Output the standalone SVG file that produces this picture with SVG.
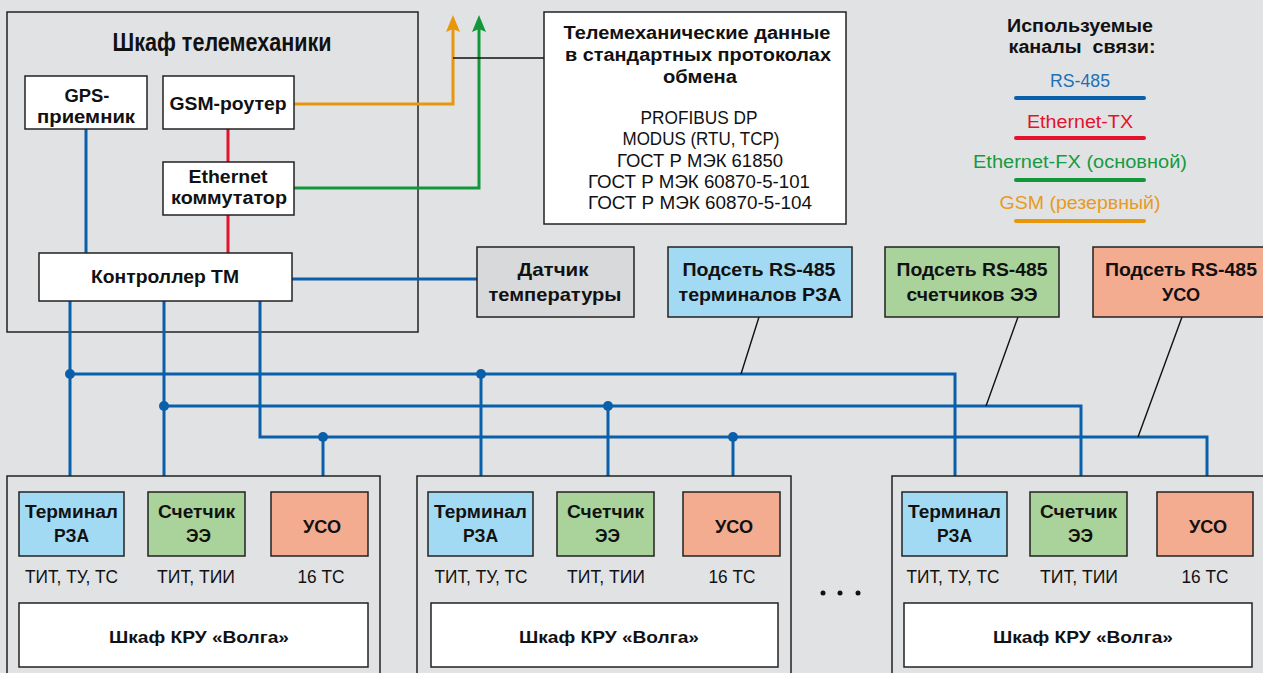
<svg xmlns="http://www.w3.org/2000/svg" width="1263" height="673" viewBox="0 0 1263 673">
<defs>
<style>
.t{font-family:"Liberation Sans","Noto Sans",Arial,sans-serif;fill:#111}
.b{font-weight:700}
.sb{font-weight:700}
.r{font-weight:400}
.box{stroke:#222;stroke-width:1.5}
.cab{fill:#e1e2e4;stroke:#222;stroke-width:1.5}
.w{fill:#fff}
.blue{fill:none;stroke:#0a5fab;stroke-width:3}
.red{fill:none;stroke:#e3132d;stroke-width:3}
.grn{fill:none;stroke:#13973b;stroke-width:3}
.org{fill:none;stroke:#e8960c;stroke-width:3}
.lead{fill:none;stroke:#111;stroke-width:1.4}
.dot{fill:#0a5fab}
.leg{fill:none;stroke-width:4;stroke-linecap:round}
</style>
<marker id="ao" viewBox="0 -7 17 14" refX="7" refY="0" markerWidth="17" markerHeight="14" markerUnits="userSpaceOnUse" orient="auto"><path d="M17,0 L0,-7 L3,0 L0,7 Z" fill="#e8960c"/></marker>
<marker id="ag" viewBox="0 -7 17 14" refX="7" refY="0" markerWidth="17" markerHeight="14" markerUnits="userSpaceOnUse" orient="auto"><path d="M17,0 L0,-7 L3,0 L0,7 Z" fill="#13973b"/></marker>
</defs>
<rect x="0" y="0" width="1263" height="673" fill="#e1e2e4"/>

<g id="telemechanics-cabinet">
<rect class="cab" x="7" y="12" width="411" height="320"/>
<text class="t b" x="222" y="51" font-size="25" text-anchor="middle" textLength="219" lengthAdjust="spacingAndGlyphs">Шкаф телемеханики</text>
</g>

<g id="connectors">
<path class="blue" d="M86,129 V253"/>
<path class="red" d="M228,129 V162 M228,215 V253"/>
<path class="org" d="M294,104 H453 V25" marker-end="url(#ao)"/>
<path class="grn" d="M294,188 H479 V25" marker-end="url(#ag)"/>
<path class="lead" d="M453,58 H544"/>
<path class="blue" d="M292,279 H477"/>
<path class="blue" d="M70,301 V492 M164,301 V492 M260,301 V437 H1207 V492"/>
<path class="blue" d="M70,374 H955 V492 M164,406 H1081 V492"/>
<path class="blue" d="M481,374 V492 M608,406 V492 M323,437 V492 M733,437 V492"/>
<circle class="dot" cx="70" cy="374" r="5"/>
<circle class="dot" cx="481" cy="374" r="5"/>
<circle class="dot" cx="164" cy="406" r="5"/>
<circle class="dot" cx="608" cy="406" r="5"/>
<circle class="dot" cx="323" cy="437" r="5"/>
<circle class="dot" cx="733" cy="437" r="5"/>
<path class="lead" d="M759,317 L741,374 M1018,317 L986,406 M1182,317 L1138,437"/>
</g>

<g id="gps">
<rect class="box w" x="25" y="76" width="122" height="53"/>
<text class="t sb" x="87" y="102" font-size="18" text-anchor="middle" textLength="45" lengthAdjust="spacingAndGlyphs">GPS-</text>
<text class="t sb" x="86" y="123" font-size="18" text-anchor="middle" textLength="98" lengthAdjust="spacingAndGlyphs">приемник</text>
</g>
<g id="gsm">
<rect class="box w" x="163" y="76" width="131" height="53"/>
<text class="t sb" x="228" y="110" font-size="18" text-anchor="middle" textLength="117" lengthAdjust="spacingAndGlyphs">GSM-роутер</text>
</g>
<g id="ethernet-switch">
<rect class="box w" x="163" y="162" width="131" height="53"/>
<text class="t sb" x="228" y="183" font-size="18" text-anchor="middle" textLength="79" lengthAdjust="spacingAndGlyphs">Ethernet</text>
<text class="t sb" x="229" y="204" font-size="18" text-anchor="middle" textLength="116" lengthAdjust="spacingAndGlyphs">коммутатор</text>
</g>
<g id="controller">
<rect class="box w" x="39" y="253" width="253" height="48"/>
<text class="t sb" x="165" y="283" font-size="18" text-anchor="middle" textLength="148" lengthAdjust="spacingAndGlyphs">Контроллер ТМ</text>
</g>

<g id="protocols">
<rect class="box w" x="544" y="12" width="302" height="212"/>
<text class="t b" x="697" y="39" font-size="18" text-anchor="middle" textLength="267" lengthAdjust="spacingAndGlyphs">Телемеханические данные</text>
<text class="t b" x="698" y="61" font-size="18" text-anchor="middle" textLength="266" lengthAdjust="spacingAndGlyphs">в стандартных протоколах</text>
<text class="t b" x="700" y="83" font-size="18" text-anchor="middle" textLength="74" lengthAdjust="spacingAndGlyphs">обмена</text>
<text class="t r" x="699" y="124" font-size="18.5" text-anchor="middle" textLength="117" lengthAdjust="spacingAndGlyphs">PROFIBUS DP</text>
<text class="t r" x="701" y="145" font-size="18.5" text-anchor="middle" textLength="157" lengthAdjust="spacingAndGlyphs">MODUS (RTU, TCP)</text>
<text class="t r" x="700" y="167" font-size="18.5" text-anchor="middle" textLength="166" lengthAdjust="spacingAndGlyphs">ГОСТ Р МЭК 61850</text>
<text class="t r" x="699" y="188" font-size="18.5" text-anchor="middle" textLength="222" lengthAdjust="spacingAndGlyphs">ГОСТ Р МЭК 60870-5-101</text>
<text class="t r" x="700" y="209" font-size="18.5" text-anchor="middle" textLength="224" lengthAdjust="spacingAndGlyphs">ГОСТ Р МЭК 60870-5-104</text>
</g>

<g id="legend">
<text class="t b" x="1080" y="32" font-size="18" text-anchor="middle" textLength="146" lengthAdjust="spacingAndGlyphs">Используемые</text>
<text class="t b" x="1082" y="53" font-size="18" text-anchor="middle" textLength="147" lengthAdjust="spacingAndGlyphs" xml:space="preserve">каналы  связи:</text>
<text class="t r" x="1080" y="87" font-size="18" text-anchor="middle" textLength="60" lengthAdjust="spacingAndGlyphs" style="fill:#1f6fb5">RS-485</text>
<path class="leg" d="M1016,98 H1144" stroke="#0a5fab"/>
<text class="t r" x="1080" y="128" font-size="18" text-anchor="middle" textLength="106" lengthAdjust="spacingAndGlyphs" style="fill:#e3132d">Ethernet-TX</text>
<path class="leg" d="M1016,138 H1144" stroke="#e3132d"/>
<text class="t r" x="1080" y="168" font-size="18" text-anchor="middle" textLength="214" lengthAdjust="spacingAndGlyphs" style="fill:#179a40">Ethernet-FX (основной)</text>
<path class="leg" d="M1016,180 H1144" stroke="#13973b"/>
<text class="t r" x="1080" y="209" font-size="18" text-anchor="middle" textLength="161" lengthAdjust="spacingAndGlyphs" style="fill:#e89a1e">GSM (резервный)</text>
<path class="leg" d="M1016,221 H1144" stroke="#e8960c"/>
</g>

<g id="temp-sensor">
<rect class="box" x="477" y="247" width="157" height="70" fill="#d8d9da"/>
<text class="t b" x="553" y="276" font-size="19" text-anchor="middle" textLength="71" lengthAdjust="spacingAndGlyphs">Датчик</text>
<text class="t b" x="555" y="301" font-size="19" text-anchor="middle" textLength="133" lengthAdjust="spacingAndGlyphs">температуры</text>
</g>
<g id="subnet-rza">
<rect class="box" x="668" y="247" width="184" height="70" fill="#a2daf4"/>
<text class="t b" x="759" y="276" font-size="19" text-anchor="middle" textLength="153" lengthAdjust="spacingAndGlyphs">Подсеть RS-485</text>
<text class="t b" x="760" y="301" font-size="19" text-anchor="middle" textLength="163" lengthAdjust="spacingAndGlyphs">терминалов РЗА</text>
</g>
<g id="subnet-meters">
<rect class="box" x="885" y="247" width="174" height="70" fill="#a9d39a"/>
<text class="t b" x="972" y="276" font-size="19" text-anchor="middle" textLength="151" lengthAdjust="spacingAndGlyphs">Подсеть RS-485</text>
<text class="t b" x="972" y="301" font-size="19" text-anchor="middle" textLength="131" lengthAdjust="spacingAndGlyphs">счетчиков ЭЭ</text>
</g>
<g id="subnet-uso">
<rect class="box" x="1093" y="247" width="180" height="70" fill="#f4ac91"/>
<text class="t b" x="1181" y="276" font-size="19" text-anchor="middle" textLength="152" lengthAdjust="spacingAndGlyphs">Подсеть RS-485</text>
<text class="t b" x="1181" y="301" font-size="19" text-anchor="middle" textLength="38" lengthAdjust="spacingAndGlyphs">УСО</text>
</g>

<g id="kru-1">
<rect class="cab" x="7" y="476" width="373" height="220"/>
<rect class="box" x="19" y="492" width="105" height="64" fill="#a2daf4"/>
<text class="t b" x="71.5" y="518" font-size="18" text-anchor="middle" textLength="93" lengthAdjust="spacingAndGlyphs">Терминал</text>
<text class="t b" x="71.5" y="542" font-size="18" text-anchor="middle" textLength="35" lengthAdjust="spacingAndGlyphs">РЗА</text>
<rect class="box" x="148" y="492" width="97" height="64" fill="#a9d39a"/>
<text class="t b" x="196.5" y="518" font-size="18" text-anchor="middle" textLength="77" lengthAdjust="spacingAndGlyphs">Счетчик</text>
<text class="t b" x="198.5" y="542" font-size="18" text-anchor="middle" textLength="25" lengthAdjust="spacingAndGlyphs">ЭЭ</text>
<rect class="box" x="271" y="492" width="97" height="64" fill="#f4ac91"/>
<text class="t b" x="322" y="533" font-size="18" text-anchor="middle" textLength="38" lengthAdjust="spacingAndGlyphs">УСО</text>
<text class="t r" x="71.5" y="583" font-size="18" text-anchor="middle" textLength="93" lengthAdjust="spacingAndGlyphs">ТИТ, ТУ, ТС</text>
<text class="t r" x="196" y="583" font-size="18" text-anchor="middle" textLength="78" lengthAdjust="spacingAndGlyphs">ТИТ, ТИИ</text>
<text class="t r" x="321" y="583" font-size="18" text-anchor="middle" textLength="47" lengthAdjust="spacingAndGlyphs">16 ТС</text>
<rect class="box w" x="19" y="603" width="349" height="64"/>
<text class="t b" x="199" y="643" font-size="17" text-anchor="middle" textLength="180" lengthAdjust="spacingAndGlyphs">Шкаф КРУ «Волга»</text>
</g>

<g id="kru-2">
<rect class="cab" x="417" y="476" width="374" height="220"/>
<rect class="box" x="428" y="492" width="105" height="64" fill="#a2daf4"/>
<text class="t b" x="480.5" y="518" font-size="18" text-anchor="middle" textLength="93" lengthAdjust="spacingAndGlyphs">Терминал</text>
<text class="t b" x="480.5" y="542" font-size="18" text-anchor="middle" textLength="35" lengthAdjust="spacingAndGlyphs">РЗА</text>
<rect class="box" x="557" y="492" width="97" height="64" fill="#a9d39a"/>
<text class="t b" x="605.5" y="518" font-size="18" text-anchor="middle" textLength="77" lengthAdjust="spacingAndGlyphs">Счетчик</text>
<text class="t b" x="607.5" y="542" font-size="18" text-anchor="middle" textLength="25" lengthAdjust="spacingAndGlyphs">ЭЭ</text>
<rect class="box" x="683" y="492" width="97" height="64" fill="#f4ac91"/>
<text class="t b" x="734" y="533" font-size="18" text-anchor="middle" textLength="38" lengthAdjust="spacingAndGlyphs">УСО</text>
<text class="t r" x="481" y="583" font-size="18" text-anchor="middle" textLength="93" lengthAdjust="spacingAndGlyphs">ТИТ, ТУ, ТС</text>
<text class="t r" x="606" y="583" font-size="18" text-anchor="middle" textLength="78" lengthAdjust="spacingAndGlyphs">ТИТ, ТИИ</text>
<text class="t r" x="732" y="583" font-size="18" text-anchor="middle" textLength="47" lengthAdjust="spacingAndGlyphs">16 ТС</text>
<rect class="box w" x="431" y="603" width="347" height="64"/>
<text class="t b" x="609" y="643" font-size="17" text-anchor="middle" textLength="180" lengthAdjust="spacingAndGlyphs">Шкаф КРУ «Волга»</text>
</g>

<g id="ellipsis">
<circle cx="823" cy="593" r="2.5" fill="#111"/>
<circle cx="840" cy="593" r="2.5" fill="#111"/>
<circle cx="858" cy="593" r="2.5" fill="#111"/>
</g>

<g id="kru-3">
<rect class="cab" x="892" y="476" width="390" height="220"/>
<rect class="box" x="902" y="492" width="105" height="64" fill="#a2daf4"/>
<text class="t b" x="954.5" y="518" font-size="18" text-anchor="middle" textLength="93" lengthAdjust="spacingAndGlyphs">Терминал</text>
<text class="t b" x="954.5" y="542" font-size="18" text-anchor="middle" textLength="35" lengthAdjust="spacingAndGlyphs">РЗА</text>
<rect class="box" x="1030" y="492" width="97" height="64" fill="#a9d39a"/>
<text class="t b" x="1078.5" y="518" font-size="18" text-anchor="middle" textLength="77" lengthAdjust="spacingAndGlyphs">Счетчик</text>
<text class="t b" x="1080.5" y="542" font-size="18" text-anchor="middle" textLength="25" lengthAdjust="spacingAndGlyphs">ЭЭ</text>
<rect class="box" x="1157" y="492" width="96" height="64" fill="#f4ac91"/>
<text class="t b" x="1208" y="533" font-size="18" text-anchor="middle" textLength="38" lengthAdjust="spacingAndGlyphs">УСО</text>
<text class="t r" x="953" y="583" font-size="18" text-anchor="middle" textLength="93" lengthAdjust="spacingAndGlyphs">ТИТ, ТУ, ТС</text>
<text class="t r" x="1079" y="583" font-size="18" text-anchor="middle" textLength="78" lengthAdjust="spacingAndGlyphs">ТИТ, ТИИ</text>
<text class="t r" x="1205" y="583" font-size="18" text-anchor="middle" textLength="47" lengthAdjust="spacingAndGlyphs">16 ТС</text>
<rect class="box w" x="904" y="603" width="348" height="64"/>
<text class="t b" x="1083" y="643" font-size="17" text-anchor="middle" textLength="180" lengthAdjust="spacingAndGlyphs">Шкаф КРУ «Волга»</text>
</g>
</svg>
